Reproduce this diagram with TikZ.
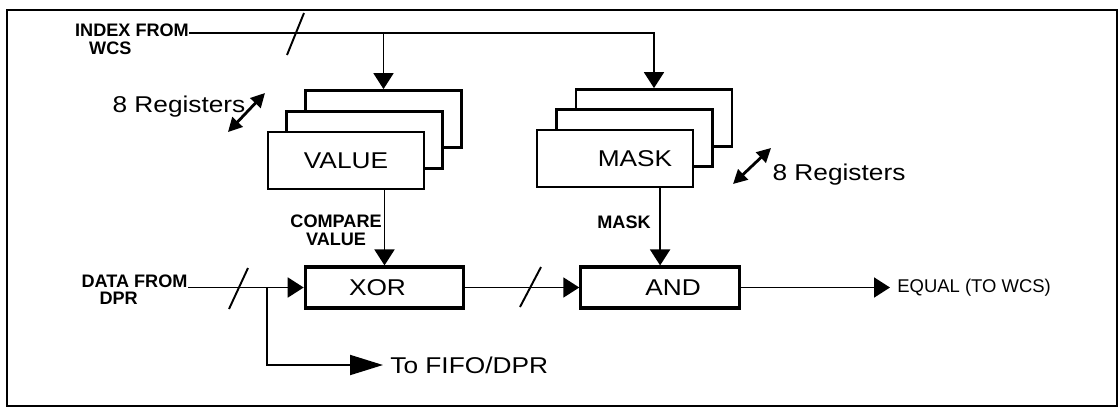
\documentclass[tikz,border=0pt]{standalone}
\usepackage{fontspec}
\setmainfont{Liberation Sans}
\newfontfamily\widesans[FakeStretch=1.15]{Liberation Sans}
\usepackage{tikz}
\usetikzlibrary{positioning,arrows.meta}

\tikzset{
  big/.style={font=\widesans\fontsize{13}{15}\selectfont, inner sep=0pt},
  lbl/.style={font=\bfseries\fontsize{10.3}{10}\selectfont, inner sep=0pt, align=center},
  eqlbl/.style={font=\fontsize{10.5}{12}\selectfont, inner sep=0pt},
  reg/.style={big, draw, line width=1.6pt, fill=white,
    minimum width=3.12cm, minimum height=1.14cm},
  gate/.style={big, draw, line width=1.8pt, fill=white,
    minimum width=3.17cm, minimum height=0.82cm},
  bus/.style={line width=1.1pt},
  dbl/.style={line width=1.6pt,
    {Triangle[length=0.28cm,width=0.28cm]}-{Triangle[length=0.28cm,width=0.28cm]}},
}

\begin{document}
\begin{tikzpicture}[x=0.02cm, y=-0.02cm, >={Triangle[length=0.32cm,width=0.4cm]}]
  \useasboundingbox (0,0) rectangle (1120,410);
  \draw[line width=1.6pt] (7,10) rectangle (1117,406);

  % register stacks
  \node (val3) [reg] at (383.5,119) {};
  \node (val2) [reg] at (364.5,140) {};
  \node (val) [reg] at (346,160.5) {VALUE};
  \node (msk3) [reg] at (654,118) {};
  \node (msk2) [reg] at (634.5,138) {};
  \node (msk) [reg] at (615,158.5) {\hspace*{0.8cm}MASK};

  % gates
  \node (xor) [gate] at (384.5,287.5) {XOR\hspace*{0.28cm}};
  \node (and) [gate, right=2.28cm of xor] {\hspace*{0.52cm}AND};

  % labels
  \node (index) [lbl, align=left] at (132,39.5) {INDEX FROM\\\hspace*{0.28cm}WCS};
  \node (data) [lbl, align=left] at (134.5,289.5) {DATA FROM\\\hspace*{0.36cm}DPR};
  \node (cmp) [lbl, anchor=east] at (382,230.5) {COMPARE\\VALUE};
  \node (mlbl) [lbl, anchor=east] at (651,222) {MASK};
  \node (fifo) [big, anchor=west, inner xsep=4pt] at (383,365) {To FIFO/DPR};
  \node (eq) [eqlbl, anchor=west, inner xsep=4pt] at (890,287.5) {EQUAL (TO WCS)};
  \node (regL) [big] at (179,107) {8 Registers};
  \node (regR) [big] at (839,175) {8 Registers};

  \coordinate (idx) at (189,33);
  \coordinate (din) at (188,287.5);
  \coordinate (tap) at (267,287.5);

  % index bus
  \draw[bus,->] (idx) -| (msk3.north);
  \draw[bus,->] (val3.north |- idx) -- (val3.north);
  \draw[bus] (287,55) -- (304,13);

  % compare path
  \draw[bus,->] (xor.north |- val.south) -- (xor.north);
  \draw[bus,->] (and.north |- msk.south) -- (and.north);
  \draw[bus,->] (din) -- (xor.west);
  \draw[bus] (229,309) -- (248,268);
  \draw[bus,-{Triangle[length=0.66cm,width=0.4cm]}] (tap) |- (fifo.west);
  \draw[bus,->] (xor) -- (and);
  \draw[bus] (520,307) -- (541,267);
  \draw[bus,->] (and) -- (eq);

  % register count marks
  \draw[dbl] (228,132) -- (265,93);
  \draw[dbl] (733,184) -- (771,148);
\end{tikzpicture}
\end{document}
